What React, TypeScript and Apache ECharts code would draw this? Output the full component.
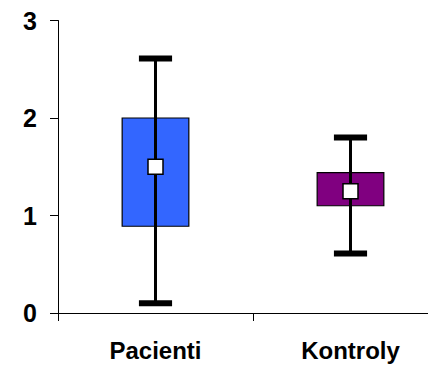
import React, { useEffect, useRef } from "react";
import * as echarts from "echarts";

// Groups and their summary statistics
const categories = ["Pacienti", "Kontroly"];
const whiskerLow = [0.1, 0.61];
const boxLow = [0.89, 1.1];
const meanValues = [1.5, 1.25];
const boxHigh = [2.0, 1.44];
const whiskerHigh = [2.61, 1.8];
const boxColors = ["#3366FF", "#800080"];

// y-axis ticks
const yTicks = [0, 1, 2, 3];

export default function App() {
  const ref = useRef<HTMLDivElement>(null);

  useEffect(() => {
    if (!ref.current) return;
    const chart = echarts.init(ref.current, null, { renderer: "svg" });

    const data = categories.map((_, i) => [
      i,
      whiskerLow[i],
      boxLow[i],
      meanValues[i],
      boxHigh[i],
      whiskerHigh[i],
    ]);

    const font = "Liberation Sans, Arial, sans-serif";

    chart.setOption({
      animation: false,
      grid: { left: 50, top: 8, width: 390, height: 297, containLabel: false },
      xAxis: {
        type: "category",
        data: categories,
        boundaryGap: true,
        axisLine: { show: true, lineStyle: { color: "#000", width: 1 } },
        axisTick: {
          show: true,
          alignWithLabel: false,
          interval: 0,
          length: 8,
          lineStyle: { color: "#000", width: 1 },
        },
        axisLabel: {
          interval: 0,
          color: "#000",
          fontFamily: font,
          fontWeight: "bold",
          fontSize: 24,
          margin: 25,
        },
        splitLine: { show: false },
      },
      yAxis: {
        type: "value",
        min: yTicks[0],
        max: yTicks[yTicks.length - 1],
        interval: 1,
        axisLine: { show: true, lineStyle: { color: "#000", width: 1 } },
        axisTick: { show: true, length: 8, lineStyle: { color: "#000", width: 1 } },
        axisLabel: {
          color: "#000",
          fontFamily: font,
          fontWeight: "bold",
          fontSize: 25,
          margin: 21,
        },
        splitLine: { show: false },
      },
      series: [
        {
          type: "custom",
          data,
          encode: { x: 0, y: [1, 2, 3, 4, 5] },
          renderItem: (params: any, api: any) => {
            const idx = api.value(0);
            const band = api.size([1, 0])[0];
            const [cx, yLow] = api.coord([idx, api.value(1)]);
            const yQ1 = api.coord([idx, api.value(2)])[1];
            const yMean = api.coord([idx, api.value(3)])[1];
            const yQ3 = api.coord([idx, api.value(4)])[1];
            const yHigh = api.coord([idx, api.value(5)])[1];
            const boxW = band * 0.342;
            const capW = band * 0.17;
            const capH = 6;
            const m = 15;
            return {
              type: "group",
              children: [
                {
                  type: "rect",
                  shape: { x: cx - boxW / 2, y: yQ3, width: boxW, height: yQ1 - yQ3 },
                  style: { fill: boxColors[idx], stroke: "#000", lineWidth: 1.2 },
                },
                {
                  type: "line",
                  shape: { x1: cx, y1: yHigh, x2: cx, y2: yLow },
                  style: { stroke: "#000", lineWidth: 3 },
                },
                {
                  type: "rect",
                  shape: { x: cx - capW / 2, y: yHigh - capH / 2, width: capW, height: capH },
                  style: { fill: "#000" },
                },
                {
                  type: "rect",
                  shape: { x: cx - capW / 2, y: yLow - capH / 2, width: capW, height: capH },
                  style: { fill: "#000" },
                },
                {
                  type: "rect",
                  shape: { x: cx - m / 2, y: yMean - m / 2, width: m, height: m },
                  style: { fill: "#fff", stroke: "#000", lineWidth: 1.5 },
                },
              ],
            };
          },
        },
      ],
    });

    return () => chart.dispose();
  }, []);

  return (
    <div style={{ width: 428, height: 357, overflow: "hidden" }}>
      <div ref={ref} style={{ width: 450, height: 357 }} />
    </div>
  );
}
